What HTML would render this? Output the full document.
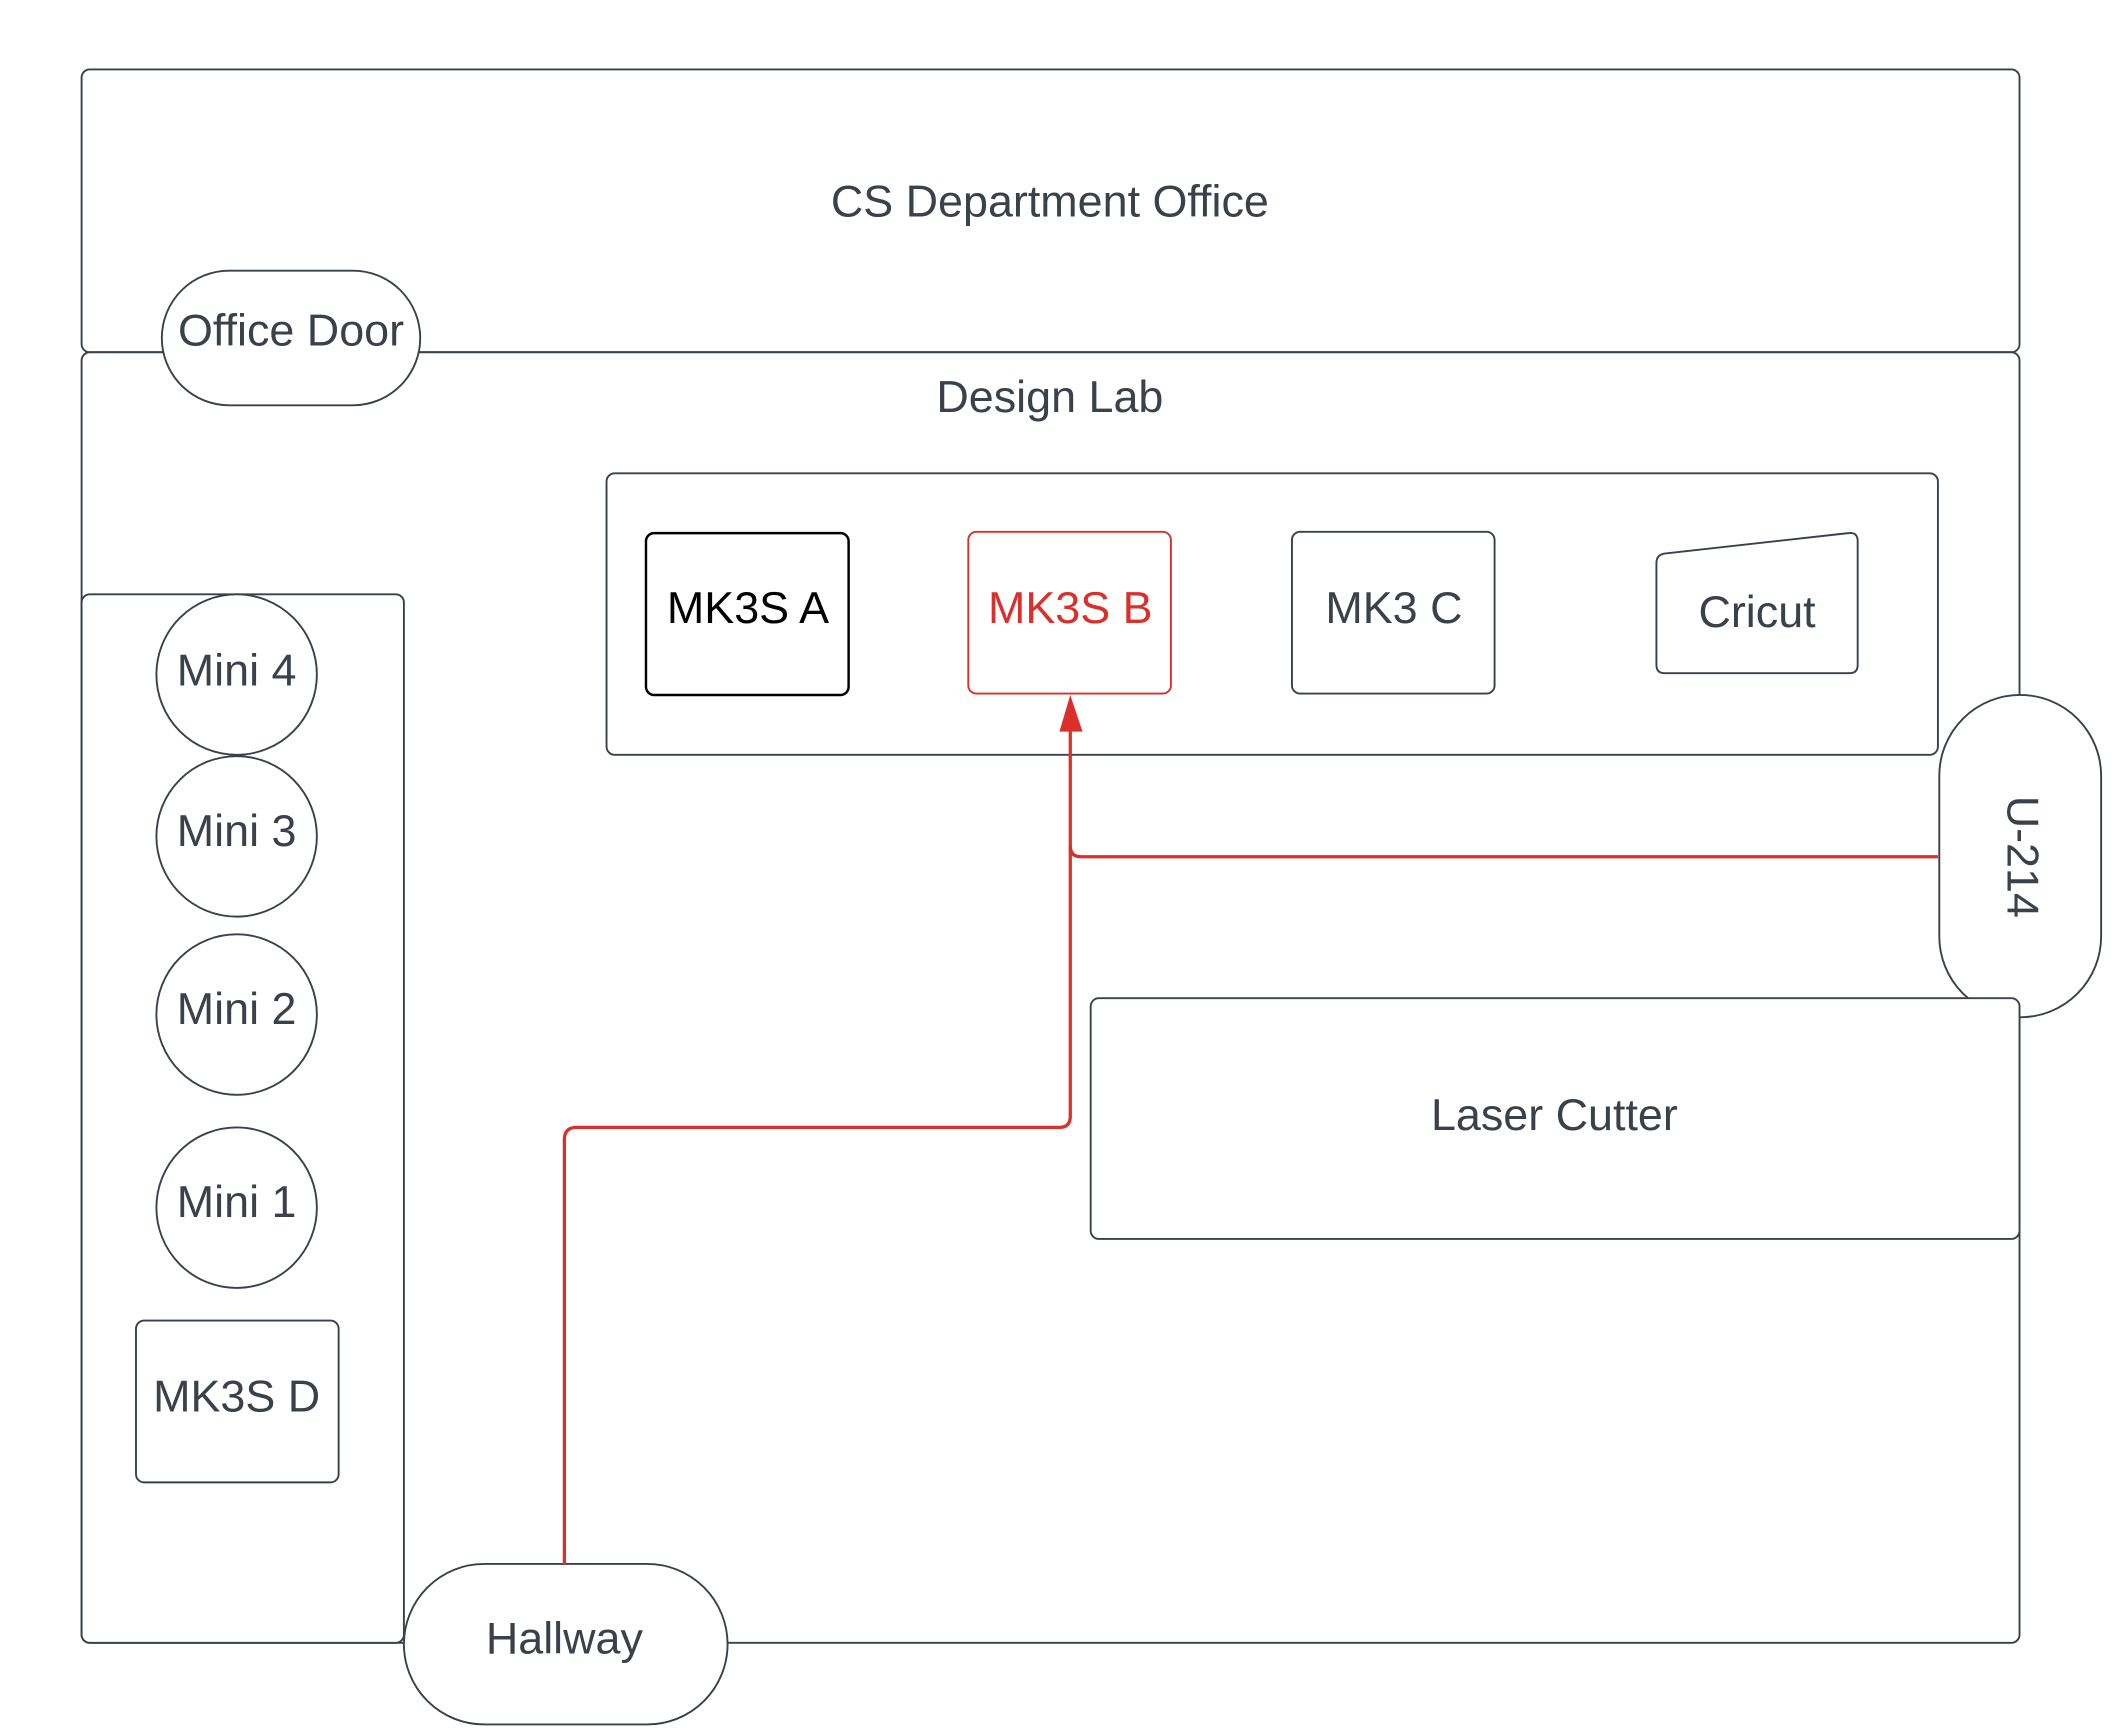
<!DOCTYPE html>
<html><head><style>html,body{margin:0;padding:0;background:#fff}svg{display:block}</style></head>
<body>
<svg width="2112" height="1734" viewBox="0 0 1553 1275" xmlns="http://www.w3.org/2000/svg" font-family="Liberation Sans, sans-serif" font-size="33" fill="none">
<g stroke="#3a414a" stroke-width="1.4">
<rect x="60" y="51" width="1425" height="208" rx="6" fill="#fff"/>
<rect x="60" y="259" width="1425" height="949" rx="6" fill="#fff"/>
<rect x="60" y="437" width="237" height="771" rx="6" fill="#fff"/>
<rect x="119" y="199" width="190" height="99" rx="49.5" fill="#fff"/>
<rect x="446" y="348" width="979" height="207" rx="6" fill="#fff"/>
<rect x="475" y="392" width="149" height="119" rx="6" fill="#fff" stroke="#000" stroke-width="1.8"/>
<rect x="712" y="391" width="149" height="119" rx="6" fill="#fff" stroke="#d9302c"/>
<rect x="950" y="391" width="149" height="119" rx="6" fill="#fff"/>
<path d="M1224,407 L1359,392 Q1366,391 1366,398 L1366,489 Q1366,495 1360,495 L1224,495 Q1218,495 1218,489 L1218,414 Q1218,408 1224,407 Z" fill="#fff"/>
<circle cx="174" cy="496" r="59" fill="#fff"/>
<circle cx="174" cy="615" r="59" fill="#fff"/>
<circle cx="174" cy="746" r="59" fill="#fff"/>
<circle cx="174" cy="888" r="59" fill="#fff"/>
<rect x="100" y="971" width="149" height="119" rx="6" fill="#fff"/>
<rect x="1426" y="511" width="119" height="237" rx="59.5" fill="#fff"/>
<rect x="802" y="734" width="683" height="177" rx="6" fill="#fff"/>
<rect x="297" y="1150" width="238" height="118" rx="59" fill="#fff"/>
</g>
<g stroke="#d9302c" stroke-width="2.4">
<path d="M415,1150 L415,838 Q415,829 424,829 L779,829 Q787,829 787,821 L787,535"/>
<path d="M1425,630 L795,630 Q787,630 787,622"/>
</g>
<path d="M787,511 L779,538 L796,538 Z" fill="#d9302c"/>
<g fill="#3a414a" text-anchor="middle">
<text x="772" y="159">CS Department Office</text>
<text x="772" y="303">Design Lab</text>
<text x="214" y="254">Office Door</text>
<text x="550" y="458" fill="#000">MK3S A</text>
<text x="787" y="458" fill="#d9302c">MK3S B</text>
<text x="1025" y="458">MK3 C</text>
<text x="1292" y="461">Cricut</text>
<text x="174" y="504">Mini 4</text>
<text x="174" y="622">Mini 3</text>
<text x="174" y="753">Mini 2</text>
<text x="174" y="895">Mini 1</text>
<text x="174" y="1038">MK3S D</text>
<text x="1143" y="831">Laser Cutter</text>
<text x="415" y="1216">Hallway</text>
<text transform="translate(1476,630) rotate(90)" x="0" y="0">U-214</text>
</g>
</svg>
</body></html>
